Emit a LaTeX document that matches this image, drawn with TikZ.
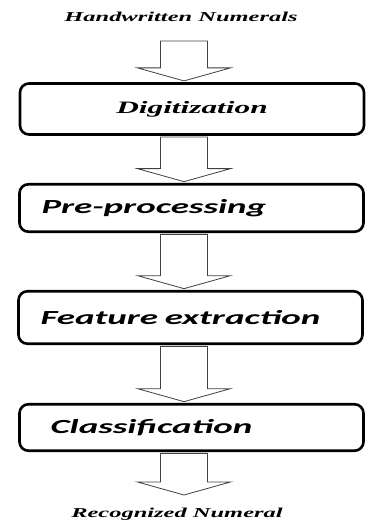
\documentclass[tikz,border=0pt]{standalone}
\usepackage{fontspec}
\usepackage{tikz}
\usetikzlibrary{calc}

\newfontfamily\serifstretch[FakeStretch=1.8]{Liberation Serif}
\newfontfamily\sansstretch[FakeStretch=1.85]{Carlito}

\def\arrowx{184pt}
\newcommand{\blockarrow}[2]{%
  \draw[blockarr] let \p1=($(#1)+(0,1.3)$), \p2=($(#2)-(0,1.3)$) in
    (\arrowx-23.5pt,\y1) -- (\arrowx-23.5pt,\y2+13pt) -- (\arrowx-46.5pt,\y2+13pt)
    -- (\arrowx,\y2) -- (\arrowx+46.5pt,\y2+13pt) -- (\arrowx+23.5pt,\y2+13pt)
    -- (\arrowx+23.5pt,\y1) -- cycle;}

\tikzset{
  stage/.style={draw, line width=2.6pt, rounded corners=9pt, inner xsep=22pt,
    text width=300pt, align=left, minimum height=48pt,
    font=\sansstretch\bfseries\itshape\fontsize{20}{24}\selectfont},
  blockarr/.style={draw=black!75, line width=0.8pt, fill=white},
  endtext/.style={font=\serifstretch\bfseries\itshape\fontsize{13.6}{16}\selectfont}
}

\begin{document}
\begin{tikzpicture}[x=1pt,y=-1pt]
\useasboundingbox (0,0) rectangle (367,521);

% Input and output
\node[endtext, anchor=base] (hw) at (181,22) {Handwritten Numerals};
\coordinate (src) at (184,39.7);
\coordinate (sink) at (184,496.3);
\node[endtext, anchor=base] (rec) at (177,517) {Recognized Numeral};

% Stages
\node[stage, align=center, minimum height=51pt,
  font=\serifstretch\bfseries\itshape\fontsize{17.4}{20}\selectfont] (digit) at (192,109) {Digitization};
\node[stage, minimum height=47.5pt] (prep) at (191.5,208) {Pre-processing};
\node[stage, minimum height=52.5pt] (feat) at (190.5,317.5) {Feature extraction};
\node[stage, minimum height=46.5pt] (class) at (191.5,427.5) {\hspace*{9pt}Classification};

% Block arrows
\blockarrow{src}{digit.north}
\blockarrow{digit.south}{prep.north}
\blockarrow{prep.south}{feat.north}
\blockarrow{feat.south}{class.north}
\blockarrow{class.south}{sink}
\end{tikzpicture}
\end{document}
